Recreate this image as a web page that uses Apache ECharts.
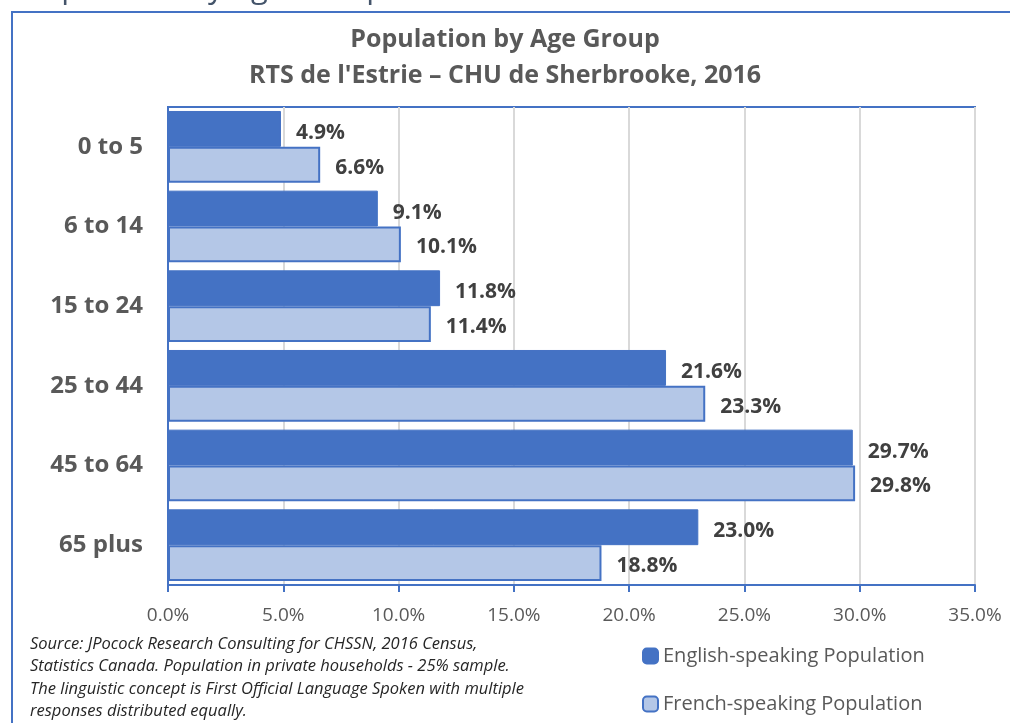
<!DOCTYPE html>
<html>
<head>
<meta charset="utf-8">
<script src="https://cdn.jsdelivr.net/npm/echarts@6/dist/echarts.min.js"></script>
<style>
    html, body { margin: 0; padding: 0; background: #fff; }
    #chart { width: 1010px; height: 723px; }
</style>
</head>
<body>
<div id="chart"></div>
<script>
// age groups and shares (%)
var ageGroups = ['0 to 5', '6 to 14', '15 to 24', '25 to 44', '45 to 64', '65 plus'];
var englishPop = [4.9, 9.1, 11.8, 21.6, 29.7, 23.0];
var frenchPop = [6.6, 10.1, 11.4, 23.3, 29.8, 18.8];
var seriesNames = ['English-speaking Population', 'French-speaking Population'];

var FONT = '"Open Sans", "Noto Sans", sans-serif';
var BLUE = '#4472c4';
var LIGHT = '#b4c7e7';
var GREY = '#595959';

var sourceText = [
    'Source: JPocock Research Consulting for CHSSN, 2016 Census,',
    'Statistics Canada. Population in private households - 25% sample.',
    'The linguistic concept is First Official Language Spoken with multiple',
    'responses distributed equally.'
].join('\n');

var pctLabel = function (p) { return p.value.toFixed(1) + '%'; };

var myChart = echarts.init(document.getElementById('chart'));

var option = {
    animation: false,
    textStyle: { fontFamily: FONT },
    title: {
        text: 'Population by Age Group\nRTS de l\'Estrie \u2013 CHU de Sherbrooke, 2016',
        left: 'center',
        top: 17,
        textStyle: {
            fontFamily: FONT,
            fontSize: 25,
            fontWeight: 'bold',
            color: GREY,
            lineHeight: 36
        }
    },
    legend: {
        orient: 'vertical',
        left: 637,
        top: 641,
        itemWidth: 15,
        itemHeight: 15,
        itemGap: 28,
        data: seriesNames,
        textStyle: { fontFamily: FONT, fontSize: 20, color: GREY }
    },
    grid: {
        left: 168,
        right: 35,
        top: 107,
        bottom: 138,
        show: true,
        borderColor: BLUE,
        borderWidth: 2,
        containLabel: false
    },
    xAxis: {
        type: 'value',
        min: 0,
        max: 35,
        interval: 5,
        axisLine: { show: true, lineStyle: { color: BLUE, width: 2 } },
        axisTick: { show: true, length: 7, lineStyle: { color: BLUE, width: 2 } },
        splitLine: { show: true, lineStyle: { color: '#d9d9d9', width: 2 } },
        axisLabel: {
            margin: 21,
            fontSize: 19,
            color: GREY,
            fontFamily: FONT,
            formatter: function (v) { return v.toFixed(1) + '%'; }
        }
    },
    yAxis: {
        type: 'category',
        inverse: true,
        data: ageGroups,
        axisLine: { show: true, lineStyle: { color: BLUE, width: 2 } },
        axisTick: { show: false },
        axisLabel: {
            margin: 25,
            fontSize: 24,
            fontWeight: 'bold',
            color: GREY,
            fontFamily: FONT
        }
    },
    series: [
        {
            name: seriesNames[0],
            type: 'bar',
            data: englishPop,
            barGap: '0%',
            barCategoryGap: '10%',
            itemStyle: { color: BLUE, borderColor: BLUE, borderWidth: 1 },
            label: {
                show: true,
                position: 'right',
                distance: 15,
                offset: [0, 4],
                fontSize: 21,
                fontWeight: 'bold',
                color: '#404040',
                fontFamily: FONT,
                formatter: pctLabel
            }
        },
        {
            name: seriesNames[1],
            type: 'bar',
            data: frenchPop,
            itemStyle: { color: LIGHT, borderColor: BLUE, borderWidth: 2 },
            label: {
                show: true,
                position: 'right',
                distance: 15,
                offset: [0, 3],
                fontSize: 21,
                fontWeight: 'bold',
                color: '#404040',
                fontFamily: FONT,
                formatter: pctLabel
            }
        }
    ],
    graphic: [
        // outer chart frame (right/bottom run off the page)
        {
            type: 'rect',
            shape: { x: 12, y: 12, width: 1100, height: 800 },
            style: { fill: 'none', stroke: BLUE, lineWidth: 2 },
            silent: true
        },
        // heading of the page above, mostly cut off
        {
            type: 'text',
            left: 24,
            top: -26,
            style: {
                text: 'Population by Age Group',
                font: '31px ' + FONT,
                fill: '#44546a'
            },
            silent: true
        },
        {
            type: 'text',
            left: 30,
            top: 633,
            style: {
                text: sourceText,
                font: 'italic 16.5px ' + FONT,
                lineHeight: 22.5,
                fill: '#262626'
            },
            silent: true
        }
    ]
};

myChart.setOption(option);
</script>
</body>
</html>
